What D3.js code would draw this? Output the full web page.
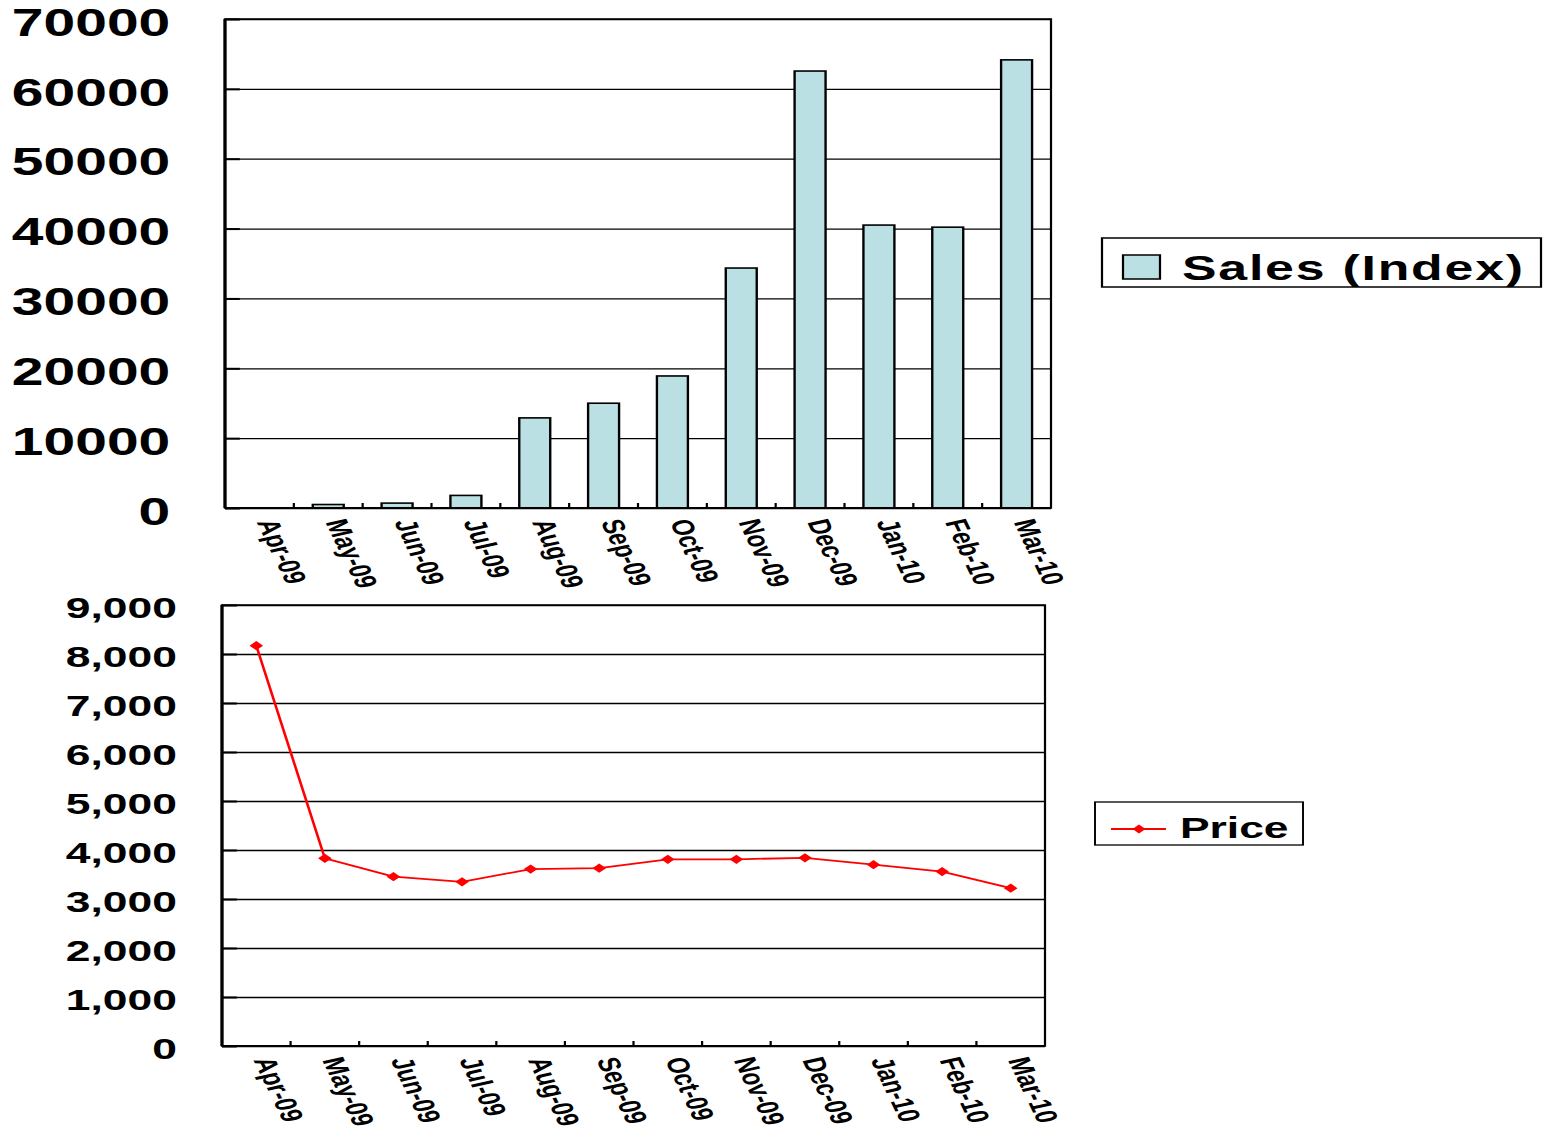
<!DOCTYPE html>
<html>
<head>
<meta charset="utf-8">
<script src="https://cdn.jsdelivr.net/npm/d3@7"></script>
<style>
  html, body { margin: 0; padding: 0; background: #fff; }
  svg { display: block; }
  text { font-family: "Liberation Sans", Arial, sans-serif; font-weight: bold; fill: #000; }
</style>
</head>
<body>
<svg id="chart" width="1546" height="1128"></svg>
<script>
// Monthly categories shared by both panels
const months = ["Apr-09", "May-09", "Jun-09", "Jul-09", "Aug-09", "Sep-09",
                "Oct-09", "Nov-09", "Dec-09", "Jan-10", "Feb-10", "Mar-10"];

// Sales index per month (bar panel)
const salesIndex = [0, 500, 700, 1800, 12900, 15000, 18900, 34350, 62550, 40500, 40200, 64150];

// Average price per month (line panel)
const price = [8170, 3830, 3455, 3350, 3610, 3630, 3810, 3810, 3840, 3700, 3560, 3220];

// Axis tick values
const salesTicks = [0, 10000, 20000, 30000, 40000, 50000, 60000, 70000];
const priceTicks = [0, 1000, 2000, 3000, 4000, 5000, 6000, 7000, 8000, 9000];

const salesLabel = "Sales (Index)";
const priceLabel = "Price";

// The whole drawing uses wide lettering: draw in a narrow space and stretch horizontally.
const SX = 1.48;
const BAR_FILL = "#bbe0e3";
const LINE_RED = "#ff0000";

const svg = d3.select("#chart");
svg.append("rect").attr("width", 1546).attr("height", 1128).attr("fill", "#fff");
const g = svg.append("g").attr("transform", `scale(${SX},1)`);

const diamond = r => `M0,${-r}L${r},0L0,${r}L${-r},0Z`;

function panel(opts) {
  const { left, right, top, bottom, ticks, domainMax, fmt, labelPad, labelSize, labelDy } = opts;
  const x = d3.scaleBand().domain(months).range([left / SX, right / SX]).paddingInner(0).paddingOuter(0);
  const y = d3.scaleLinear().domain([0, domainMax]).range([bottom, top]);
  const w = x.range()[1] - x.range()[0];
  const p = g.append("g");

  // gridlines + value labels
  const grid = p.append("g")
    .attr("transform", `translate(${x.range()[0]},0)`)
    .call(d3.axisLeft(y).tickValues(ticks).tickSizeInner(-w).tickSizeOuter(0)
      .tickPadding(labelPad).tickFormat(fmt));
  grid.select(".domain").remove();
  grid.selectAll(".tick line").attr("stroke", "#000").attr("stroke-width", 1.3);
  grid.selectAll(".tick text")
    .attr("font-size", labelSize)
    .attr("dy", labelDy)
    .attr("font-family", "'Liberation Sans', Arial, sans-serif")
    .attr("font-weight", "bold");

  // short inward tick marks on the value axis
  const inner = p.append("g")
    .attr("transform", `translate(${x.range()[0]},0)`)
    .call(d3.axisLeft(y).tickValues(ticks).tickSize(-10).tickFormat(""));
  inner.select(".domain").remove();
  inner.selectAll(".tick line").attr("stroke", "#000").attr("stroke-width", 2);

  // frame
  p.append("rect")
    .attr("x", x.range()[0]).attr("y", top)
    .attr("width", w).attr("height", bottom - top)
    .attr("fill", "none").attr("stroke", "#000").attr("stroke-width", 1.5);

  return { x, y, w, p };
}

function categoryAxis(P, bottom) {
  const { x, p } = P;
  const bw = x.bandwidth();
  // ticks between categories, pointing up into the plot
  p.append("g").selectAll("line")
    .data(months.slice(1))
    .join("line")
    .attr("x1", d => x(d)).attr("x2", d => x(d))
    .attr("y1", bottom).attr("y2", bottom - 5)
    .attr("stroke", "#000").attr("stroke-width", 1.5);
  // rotated month labels
  p.append("g").selectAll("text")
    .data(months)
    .join("text")
    .attr("transform", d => `translate(${x(d) + bw / 2 - 2},${bottom + 14}) rotate(72)`)
    .attr("text-anchor", "start")
    .attr("font-size", 21)
    .text(d => d);
  // axis lines
  p.append("line")
    .attr("x1", x.range()[0]).attr("x2", x.range()[1])
    .attr("y1", bottom).attr("y2", bottom)
    .attr("stroke", "#000").attr("stroke-width", 2);
  p.append("line")
    .attr("x1", x.range()[0]).attr("x2", x.range()[0])
    .attr("y1", P.y.range()[1]).attr("y2", bottom)
    .attr("stroke", "#000").attr("stroke-width", 2.2);
}

// ---- Sales panel (bars) ----
const salesPanel = panel({
  left: 225, right: 1051, top: 19, bottom: 508,
  ticks: salesTicks, domainMax: 70000, fmt: d3.format("d"),
  labelPad: 37, labelSize: 38.5, labelDy: "0.42em"
});
{
  const { x, y, p } = salesPanel;
  const bw = x.bandwidth();
  const barW = bw * 0.45;
  p.append("g").selectAll("rect")
    .data(months.map((m, i) => ({ m, v: salesIndex[i] })).filter(d => d.v > 0))
    .join("rect")
    .attr("x", d => x(d.m) + (bw - barW) / 2)
    .attr("width", barW)
    .attr("y", d => y(d.v))
    .attr("height", d => y(0) - y(d.v))
    .attr("fill", BAR_FILL)
    .attr("stroke", "#000")
    .attr("stroke-width", 1.6);
  categoryAxis(salesPanel, 508);
}

// ---- Price panel (line) ----
const pricePanel = panel({
  left: 222, right: 1045, top: 605, bottom: 1046,
  ticks: priceTicks, domainMax: 9000, fmt: d3.format(","),
  labelPad: 30.5, labelSize: 30, labelDy: "0.43em"
});
{
  const { x, y, p } = pricePanel;
  const bw = x.bandwidth();
  const pts = months.map((m, i) => ({ m, v: price[i] }));
  p.append("path")
    .datum(pts)
    .attr("fill", "none")
    .attr("stroke", LINE_RED)
    .attr("stroke-width", 1.8)
    .attr("d", d3.line().x(d => x(d.m) + bw / 2).y(d => y(d.v)));
  p.append("g").selectAll("path")
    .data(pts)
    .join("path")
    .attr("transform", d => `translate(${x(d.m) + bw / 2},${y(d.v)})`)
    .attr("d", diamond(4.6))
    .attr("fill", LINE_RED);
  categoryAxis(pricePanel, 1046);
}

// ---- Legends ----
{
  const lg = g.append("g");
  lg.append("rect")
    .attr("x", 1102 / SX).attr("y", 238)
    .attr("width", (1541 - 1102) / SX).attr("height", 49)
    .attr("fill", "#fff").attr("stroke", "#000").attr("stroke-width", 1.5);
  lg.append("rect")
    .attr("x", 1123 / SX).attr("y", 255)
    .attr("width", 37 / SX).attr("height", 24)
    .attr("fill", BAR_FILL).attr("stroke", "#000").attr("stroke-width", 1.5);
  lg.append("text")
    .attr("x", 1182 / SX).attr("y", 280)
    .attr("font-size", 35)
    .attr("textLength", (1523 - 1182) / SX)
    .attr("lengthAdjust", "spacing")
    .text(salesLabel);

  const lp = g.append("g");
  lp.append("rect")
    .attr("x", 1095 / SX).attr("y", 802)
    .attr("width", (1303 - 1095) / SX).attr("height", 43)
    .attr("fill", "#fff").attr("stroke", "#000").attr("stroke-width", 1.3);
  lp.append("line")
    .attr("x1", 1111 / SX).attr("x2", 1166 / SX)
    .attr("y1", 829).attr("y2", 829)
    .attr("stroke", LINE_RED).attr("stroke-width", 1.8);
  lp.append("path")
    .attr("transform", `translate(${1139 / SX},829)`)
    .attr("d", diamond(4.4))
    .attr("fill", LINE_RED);
  lp.append("text")
    .attr("x", 1180 / SX).attr("y", 838)
    .attr("font-size", 30)
    .text(priceLabel);
}
</script>
</body>
</html>
